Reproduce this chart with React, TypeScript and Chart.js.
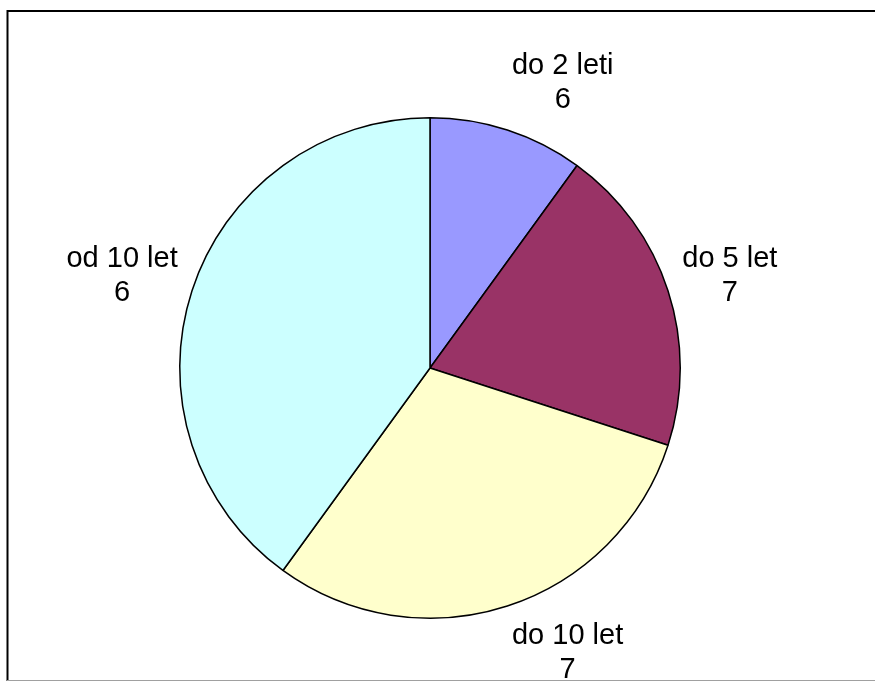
import React, { useEffect, useRef } from "react";
import { Chart, registerables } from "chart.js";

Chart.register(...registerables);

const categories = ["do 2 leti", "do 5 let", "do 10 let", "od 10 let"];
const sliceValues = [1, 2, 3, 4];
const labelValues = [6, 7, 7, 6];
const sliceColors = ["#9999FF", "#993366", "#FFFFCC", "#CCFFFF"];

const FONT = "29px 'Liberation Sans', Arial, sans-serif";
const LINE_H = 34;
const GAP = 15;

const labelPlugin = {
  id: "outsideLabels",
  afterDraw(chart: any) {
    const ctx = chart.ctx;
    const meta = chart.getDatasetMeta(0);
    ctx.save();
    ctx.font = FONT;
    ctx.fillStyle = "#000";
    ctx.textAlign = "center";
    ctx.textBaseline = "middle";
    meta.data.forEach((arc: any, i: number) => {
      const p = arc.getProps(["x", "y", "startAngle", "endAngle", "outerRadius"], true);
      const mid = (p.startAngle + p.endAngle) / 2;
      const r = p.outerRadius + GAP;
      const ax = p.x + Math.cos(mid) * r;
      const ay = p.y + Math.sin(mid) * r;
      const lines = [categories[i], String(labelValues[i])];
      const w = Math.max(...lines.map((l) => ctx.measureText(l).width));
      const h = lines.length * LINE_H;
      const cx = ax + Math.sign(Math.cos(mid)) * (w / 2);
      const cy = ay + Math.sin(mid) * (h / 2);
      lines.forEach((l, k) => {
        ctx.fillText(l, cx, cy - h / 2 + LINE_H * (k + 0.5));
      });
    });
    ctx.restore();
  },
};

const framePlugin = {
  id: "frame",
  afterDraw(chart: any) {
    const ctx = chart.ctx;
    ctx.save();
    ctx.strokeStyle = "#000";
    ctx.lineWidth = 2;
    ctx.beginPath();
    ctx.moveTo(7.5, 681);
    ctx.lineTo(7.5, 11);
    ctx.lineTo(875, 11);
    ctx.stroke();
    ctx.strokeStyle = "#a0a0a0";
    ctx.lineWidth = 1;
    ctx.beginPath();
    ctx.moveTo(7, 680.5);
    ctx.lineTo(875, 680.5);
    ctx.stroke();
    ctx.restore();
  },
};

export default function App() {
  const ref = useRef<HTMLCanvasElement>(null);
  useEffect(() => {
    if (!ref.current) return;
    const chart = new Chart(ref.current, {
      type: "pie",
      data: {
        labels: categories,
        datasets: [
          {
            data: sliceValues,
            backgroundColor: sliceColors,
            borderColor: "#000",
            borderWidth: 1.5,
          },
        ],
      },
      options: {
        responsive: false,
        animation: false,
        devicePixelRatio: 1,
        layout: { padding: { left: 179, right: 194, top: 117, bottom: 62 } },
        plugins: {
          legend: { display: false },
          tooltip: { enabled: false },
        },
      },
      plugins: [labelPlugin, framePlugin],
    });
    return () => chart.destroy();
  }, []);
  return (
    <div style={{ position: "fixed", left: 0, top: 0, width: 875, height: 681, background: "#fff" }}>
      <canvas ref={ref} width={875} height={681} style={{ display: "block" }} />
    </div>
  );
}
